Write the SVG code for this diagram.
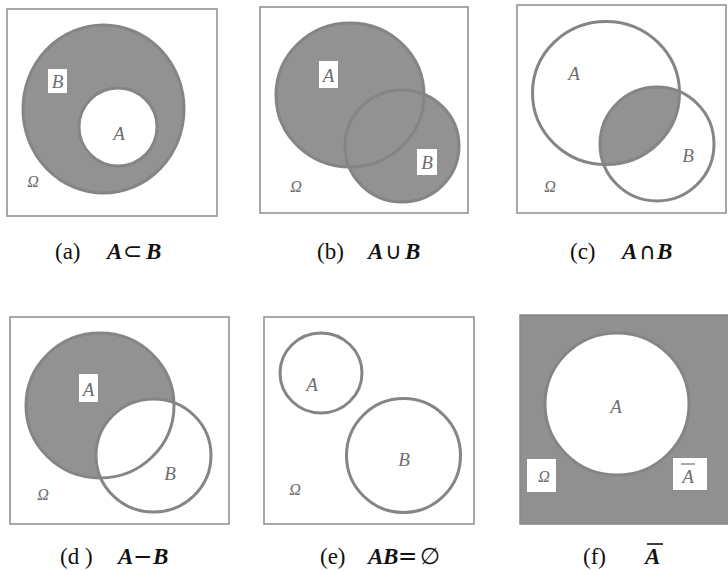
<svg xmlns="http://www.w3.org/2000/svg" width="728" height="571" viewBox="0 0 728 571">
<style>
.box{fill:#fff;stroke:#8c8c8c;stroke-width:1.5}
.gbox{fill:#909090;stroke:#888;stroke-width:1.5}
.ring{fill:none;stroke:#858585;stroke-width:3}
.g{fill:#929292}
.w{fill:#fff}
.lbl{font-family:'Liberation Serif','Times New Roman',serif;font-style:italic;font-size:19px;fill:#6e6e6e;text-anchor:middle}
.om{font-family:'Liberation Serif','DejaVu Serif',serif;font-style:italic;font-size:16px;fill:#6e6e6e;text-anchor:middle}
.cap{font-family:'Liberation Serif','Times New Roman',serif;font-size:23px;fill:#111}
.it{font-style:italic;font-weight:bold}
.sym{font-family:'DejaVu Sans',sans-serif;font-size:23px}
</style>
<defs>
<clipPath id="clipA_c"><ellipse cx="606" cy="93" rx="73.5" ry="71.5"/></clipPath>
</defs>

<g id="panel-a">
<rect class="box" x="7" y="9" width="210" height="207"/>
<ellipse class="g" cx="103.5" cy="109" rx="80.5" ry="84"/>
<ellipse class="ring" cx="103.5" cy="109" rx="80.5" ry="84"/>
<circle class="w" cx="118" cy="127" r="39"/>
<circle class="ring" cx="118" cy="127" r="39"/>
<rect class="w" x="48" y="69" width="19" height="24"/>
<text class="lbl" x="57.5" y="88">B</text>
<text class="lbl" x="119" y="140">A</text>
<text class="om" x="33" y="187">Ω</text>
<text class="cap" y="259"><tspan x="55">(a)</tspan><tspan class="it" x="107">A</tspan><tspan class="sym" x="123">⊂</tspan><tspan class="it" x="146">B</tspan></text>
</g>

<g id="panel-b">
<rect class="box" x="260" y="7" width="208" height="206"/>
<ellipse class="g" cx="350" cy="95" rx="74" ry="72"/>
<ellipse class="g" cx="402" cy="146" rx="57" ry="56"/>
<ellipse class="ring" cx="350" cy="95" rx="74" ry="72"/>
<ellipse class="ring" cx="402" cy="146" rx="57" ry="56"/>
<rect class="w" x="319" y="61" width="19" height="27"/>
<text class="lbl" x="328.5" y="82">A</text>
<rect class="w" x="417" y="149" width="20" height="26"/>
<text class="lbl" x="427" y="169">B</text>
<text class="om" x="296" y="192">Ω</text>
<text class="cap" y="259"><tspan x="317">(b)</tspan><tspan class="it" x="368">A</tspan><tspan class="sym" x="385">∪</tspan><tspan class="it" x="405">B</tspan></text>
</g>

<g id="panel-c">
<rect class="box" x="517" y="5" width="209" height="208"/>
<ellipse class="g" clip-path="url(#clipA_c)" cx="657" cy="144" rx="57" ry="57"/>
<ellipse class="ring" cx="606" cy="93" rx="73.5" ry="71.5"/>
<ellipse class="ring" cx="657" cy="144" rx="57" ry="57"/>
<text class="lbl" x="574" y="80">A</text>
<text class="lbl" x="688" y="162">B</text>
<text class="om" x="550" y="192">Ω</text>
<text class="cap" y="259"><tspan x="570">(c)</tspan><tspan class="it" x="622">A</tspan><tspan class="sym" x="639">∩</tspan><tspan class="it" x="657">B</tspan></text>
</g>

<g id="panel-d">
<rect class="box" x="10" y="317" width="219" height="207"/>
<ellipse class="g" cx="100" cy="405.5" rx="74" ry="72.5"/>
<ellipse class="w" cx="153.5" cy="455.5" rx="57.5" ry="56.5"/>
<ellipse class="ring" cx="100" cy="405.5" rx="74" ry="72.5"/>
<ellipse class="ring" cx="153.5" cy="455.5" rx="57.5" ry="56.5"/>
<rect class="w" x="79" y="374" width="19" height="28"/>
<text class="lbl" x="88.5" y="396">A</text>
<text class="lbl" x="170" y="480">B</text>
<text class="om" x="43" y="500">Ω</text>
<text class="cap" y="564"><tspan x="60">(d )</tspan><tspan class="it" x="118">A</tspan><tspan class="sym" x="133">−</tspan><tspan class="it" x="153">B</tspan></text>
</g>

<g id="panel-e">
<rect class="box" x="264" y="317" width="210" height="207"/>
<ellipse class="ring" cx="321" cy="373" rx="41" ry="40"/>
<circle class="ring" cx="403.5" cy="455.5" r="57"/>
<text class="lbl" x="312" y="391">A</text>
<text class="lbl" x="404" y="466">B</text>
<text class="om" x="295" y="495">Ω</text>
<text class="cap" y="564"><tspan x="320">(e)</tspan><tspan class="it" x="368">A</tspan><tspan class="it" x="383">B</tspan><tspan class="sym" x="398">=</tspan><tspan class="sym" x="420">∅</tspan></text>
</g>

<g id="panel-f">
<rect class="gbox" x="520" y="315" width="212" height="209"/>
<ellipse class="w" cx="617" cy="404" rx="72" ry="71"/>
<ellipse class="ring" cx="617" cy="404" rx="72" ry="71"/>
<text class="lbl" x="616" y="413">A</text>
<rect class="w" x="527" y="459" width="29" height="33"/>
<text class="om" x="544" y="482" font-size="19">Ω</text>
<rect class="w" x="673" y="458" width="34" height="32"/>
<text class="lbl" x="688" y="483">A</text>
<line x1="681" y1="464" x2="695" y2="464" stroke="#6e6e6e" stroke-width="1.2"/>
<text class="cap" y="564"><tspan x="583">(f)</tspan><tspan class="it" x="645">A</tspan></text>
<line x1="647" y1="544" x2="663" y2="544" stroke="#111" stroke-width="1.6"/>
</g>
</svg>
